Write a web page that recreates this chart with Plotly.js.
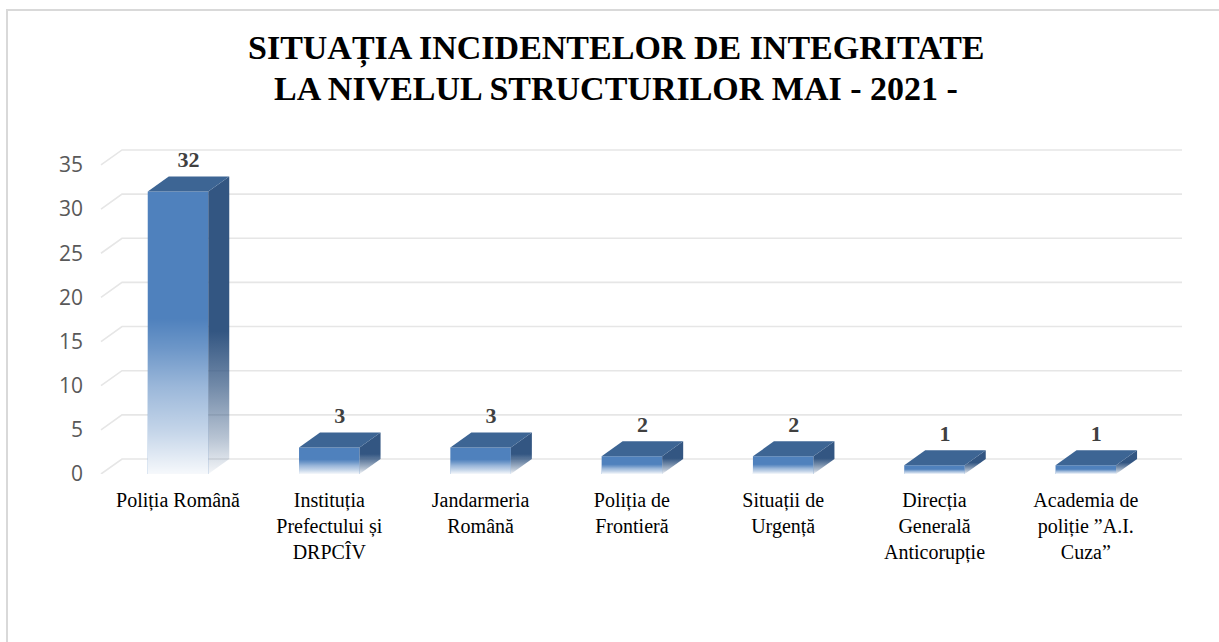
<!DOCTYPE html>
<html>
<head>
<meta charset="utf-8">
<script src="https://cdn.plot.ly/plotly-3.0.1.min.js"></script>
<style>html,body{margin:0;padding:0;background:#fff;}#chart{width:1219px;height:642px;}</style>
</head>
<body>
<div id="chart"></div>
<script>
// ---- data ----
const categories = [
  'Poliția Română',
  'Instituția<br>Prefectului și<br>DRPCÎV',
  'Jandarmeria<br>Română',
  'Poliția de<br>Frontieră',
  'Situații de<br>Urgență',
  'Direcția<br>Generală<br>Anticorupție',
  'Academia de<br>poliție ”A.I.<br>Cuza”'
];
const values = [32, 3, 3, 2, 2, 1, 1];
const yTicks = [0, 5, 10, 15, 20, 25, 30, 35];
const titleLines = ['SITUAȚIA INCIDENTELOR DE INTEGRITATE', 'LA NIVELUL STRUCTURILOR MAI - 2021 -'];

// ---- geometry / style constants ----
const W = 1219, H = 642;
const mL = 101, mR = 37, mT = 140, mB = 168;
const plotW = W - mL - mR, plotH = H - mT - mB;
const pxPerCat = 151.3;
const pxPerUnit = 8.83;
const barW = 0.4;
const dx = 21 / pxPerCat;      // depth offset in category units
const dy = 15 / pxPerUnit;     // depth offset in value units
const labelGap = 4 / pxPerUnit;
const xStart = -(178 - mL) / pxPerCat;
const xRange = [xStart, xStart + plotW / pxPerCat];
const yRange = [0, plotH / pxPerUnit];
const SERIF = 'Liberation Serif';

const idx = categories.map((c, i) => i);

const traces = [];
// front faces (real bars)
traces.push({
  type: 'bar', x: idx, y: values, width: barW,
  marker: {color: '#4f81bd', line: {width: 0}},
  hoverinfo: 'y', showlegend: false
});
// per-bar decorations
values.forEach((v, i) => {
  const l = i - barW / 2, r = i + barW / 2;
  traces.push({
    type: 'scatter', mode: 'lines', x: [l, r, r, l, l], y: [0, 0, v, v, 0],
    fill: 'toself', line: {width: 0, color: 'rgba(0,0,0,0)'},
    fillgradient: {type: 'vertical', colorscale: [
      [0, 'rgba(255,255,255,0.95)'], [0.15, 'rgba(255,255,255,0.67)'],
      [0.31, 'rgba(255,255,255,0.43)'], [0.44, 'rgba(255,255,255,0.18)'],
      [0.55, 'rgba(255,255,255,0)'], [1, 'rgba(255,255,255,0)']]},
    hoverinfo: 'skip', showlegend: false
  });
  traces.push({
    type: 'scatter', mode: 'lines', x: [r, r + dx, r + dx, r, r], y: [0, dy, v + dy, v, 0],
    fill: 'toself', line: {width: 0, color: 'rgba(0,0,0,0)'},
    fillgradient: {type: 'vertical', colorscale: [
      [0, 'rgba(51,86,130,0.05)'], [0.12, 'rgba(51,86,130,0.35)'],
      [0.3, 'rgba(51,86,130,0.7)'], [0.48, 'rgba(51,86,130,1)'], [1, 'rgba(51,86,130,1)']]},
    hoverinfo: 'skip', showlegend: false
  });
  traces.push({
    type: 'scatter', mode: 'lines', x: [l, l + dx, r + dx, r, l], y: [v, v + dy, v + dy, v, v],
    fill: 'toself', fillcolor: '#3d6594', line: {width: 0, color: 'rgba(0,0,0,0)'},
    hoverinfo: 'skip', showlegend: false
  });
});
// value labels
traces.push({
  type: 'scatter', mode: 'text',
  x: idx.map(i => i + dx / 2), y: values.map(v => v + dy + labelGap),
  text: values.map(v => String(v)), textposition: 'top center',
  textfont: {family: SERIF, size: 22, color: '#404040', weight: 'bold'},
  hoverinfo: 'skip', showlegend: false, cliponaxis: false
});

const gx = 21 / plotW;
const shapes = yTicks.map(t => ({
  type: 'path', xref: 'paper', yref: 'y', layer: 'below',
  path: `M 0,${t} L ${gx},${t + dy} L 1,${t + dy}`,
  line: {color: '#e6e6e6', width: 1.6}
}));
shapes.push({
  type: 'rect', xref: 'paper', yref: 'paper', layer: 'below',
  x0: (7 - mL) / plotW, x1: (W + 20 - mL) / plotW,
  y0: -(H + 20 - (H - mB)) / plotH, y1: ((H - mB) - 10) / plotH,
  line: {color: '#d9d9d9', width: 2}, fillcolor: 'rgba(0,0,0,0)'
});

const annotations = titleLines.map((t, k) => ({
  text: t, xref: 'paper', yref: 'paper', showarrow: false,
  x: (616 - mL) / plotW, xanchor: 'center',
  y: ((H - mB) - (48 + 40 * k)) / plotH, yanchor: 'middle',
  font: {family: SERIF, size: 34, color: '#000000', weight: 'bold'}
}));

const layout = {
  width: W, height: H,
  margin: {l: mL, r: mR, t: mT, b: mB, pad: 0},
  paper_bgcolor: '#ffffff', plot_bgcolor: 'rgba(0,0,0,0)',
  showlegend: false,
  annotations: annotations,
  xaxis: {
    range: xRange, tickvals: idx, ticktext: categories,
    showgrid: false, zeroline: false, showline: false, ticks: '',
    tickfont: {family: SERIF, size: 20, color: '#000000'},
    ticklabelstandoff: 12, fixedrange: true
  },
  yaxis: {
    range: yRange, tickvals: yTicks,
    showgrid: false, zeroline: false, showline: false, ticks: '',
    tickfont: {family: 'Open Sans', size: 21, color: '#595959'},
    ticklabelstandoff: 17, fixedrange: true
  },
  shapes: shapes
};

Plotly.newPlot('chart', traces, layout, {displayModeBar: false, staticPlot: true});
</script>
</body>
</html>
